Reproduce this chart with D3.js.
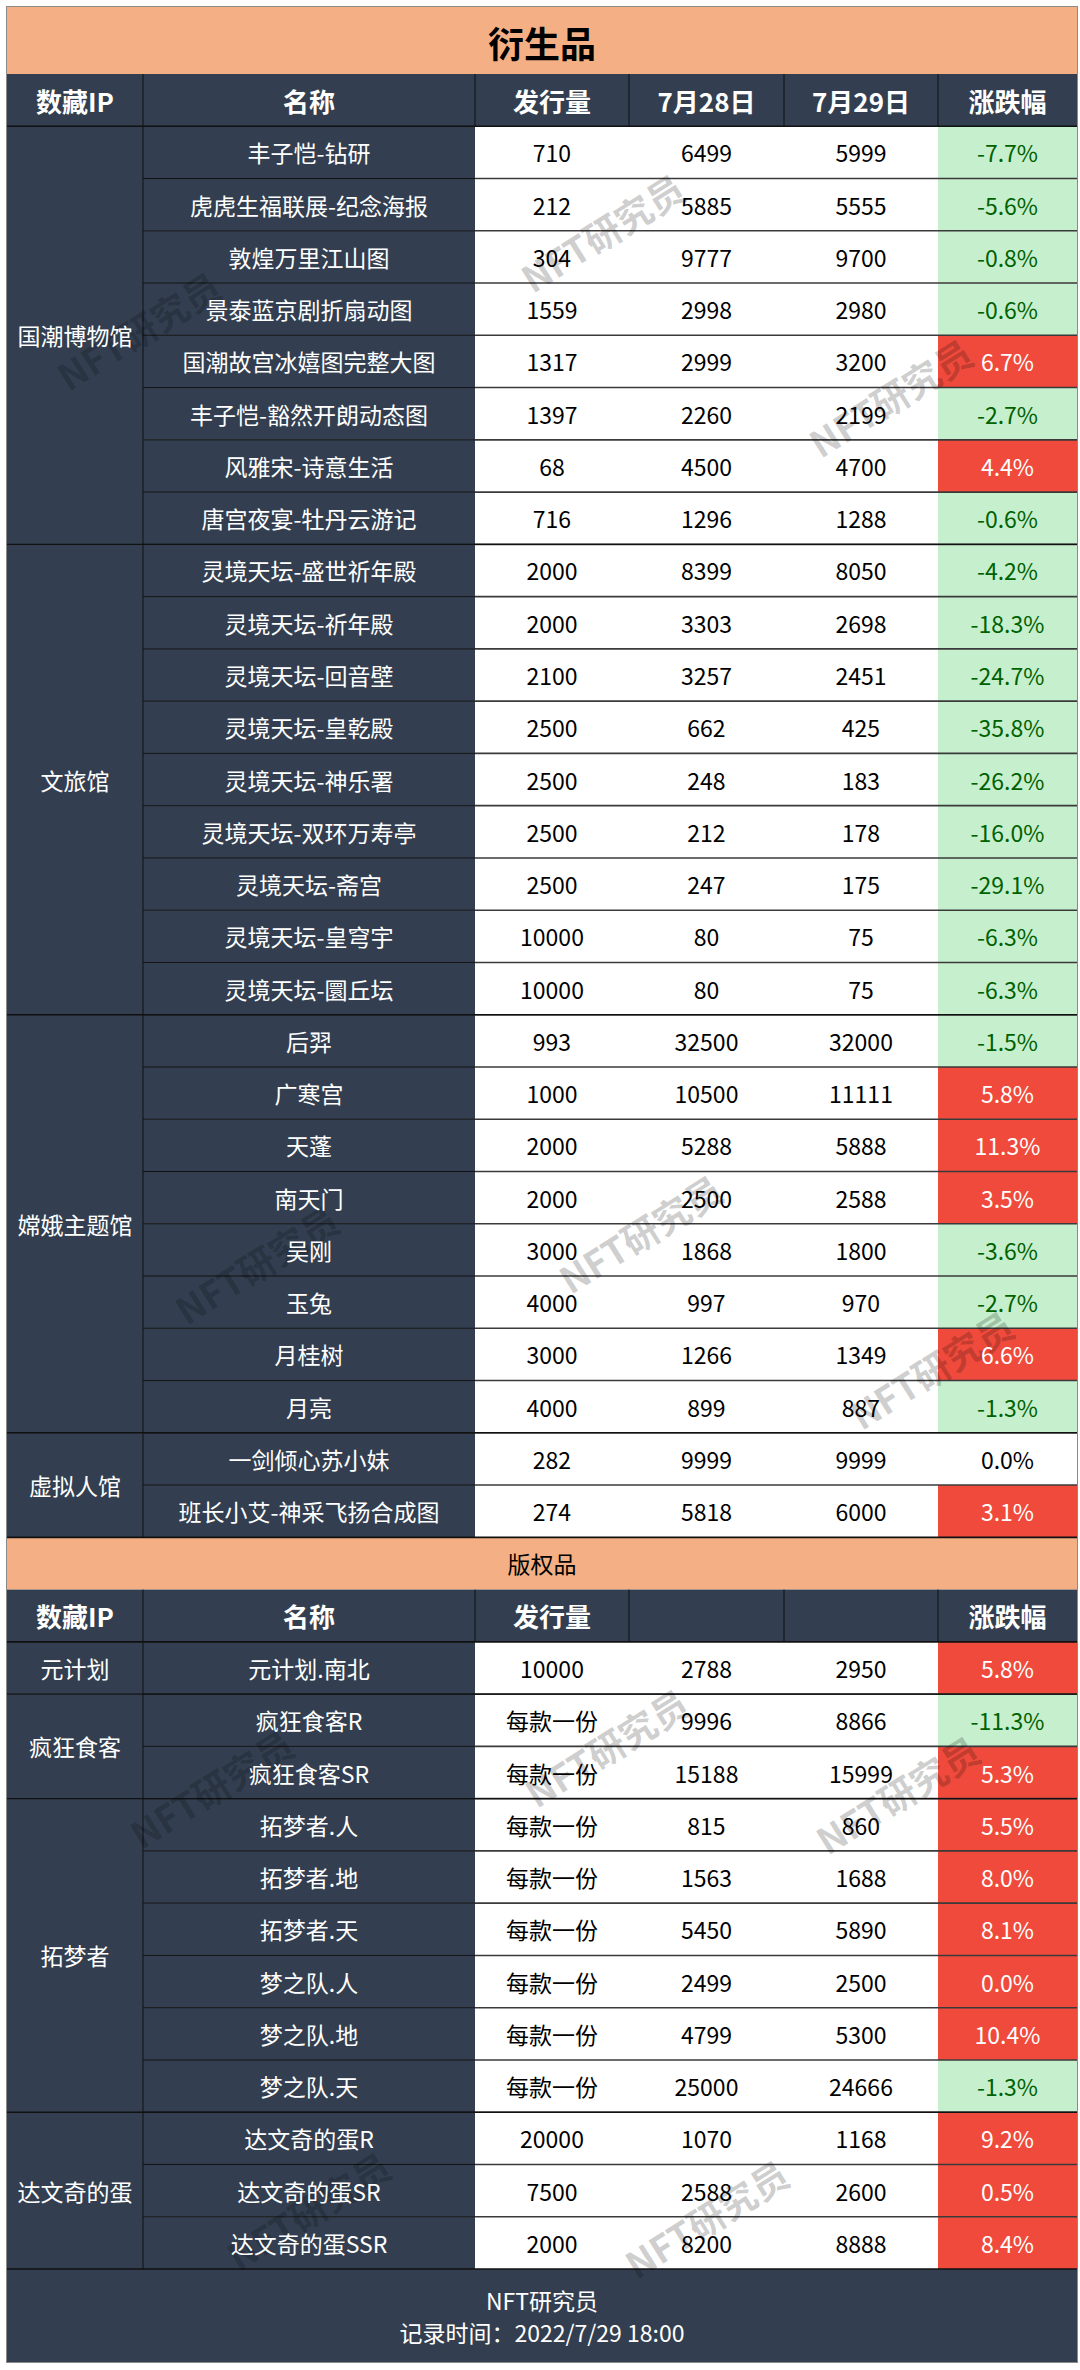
<!DOCTYPE html>
<html><head><meta charset="utf-8">
<script src="https://cdn.jsdelivr.net/npm/d3@7"></script>
<style>body{margin:0;background:#fff} svg{display:block}</style>
</head><body><svg id="c" width="1080" height="2370"></svg>
<script>
// ---------------- DATA ----------------
const title = '衍生品';
const section2Title = '版权品';
const header1 = ['数藏IP','名称','发行量','7月28日','7月29日','涨跌幅'];
const header2 = ['数藏IP','名称','发行量','','','涨跌幅'];

const groups1 = ['国潮博物馆','文旅馆','嫦娥主题馆','虚拟人馆'];
const groupSizes1 = [8, 9, 8, 2];
const names1 = ['丰子恺-钻研','虎虎生福联展-纪念海报','敦煌万里江山图','景泰蓝京剧折扇动图','国潮故宫冰嬉图完整大图','丰子恺-豁然开朗动态图','风雅宋-诗意生活','唐宫夜宴-牡丹云游记',
  '灵境天坛-盛世祈年殿','灵境天坛-祈年殿','灵境天坛-回音壁','灵境天坛-皇乾殿','灵境天坛-神乐署','灵境天坛-双环万寿亭','灵境天坛-斋宫','灵境天坛-皇穹宇','灵境天坛-圜丘坛',
  '后羿','广寒宫','天蓬','南天门','吴刚','玉兔','月桂树','月亮',
  '一剑倾心苏小妹','班长小艾-神采飞扬合成图'];
const issue1 = ['710','212','304','1559','1317','1397','68','716',
  '2000','2000','2100','2500','2500','2500','2500','10000','10000',
  '993','1000','2000','2000','3000','4000','3000','4000',
  '282','274'];
const jul28_1 = [6499,5885,9777,2998,2999,2260,4500,1296,
  8399,3303,3257,662,248,212,247,80,80,
  32500,10500,5288,2500,1868,997,1266,899,
  9999,5818];
const jul29_1 = [5999,5555,9700,2980,3200,2199,4700,1288,
  8050,2698,2451,425,183,178,175,75,75,
  32000,11111,5888,2588,1800,970,1349,887,
  9999,6000];
const change1 = [-7.7,-5.6,-0.8,-0.6,6.7,-2.7,4.4,-0.6,
  -4.2,-18.3,-24.7,-35.8,-26.2,-16.0,-29.1,-6.3,-6.3,
  -1.5,5.8,11.3,3.5,-3.6,-2.7,6.6,-1.3,
  0.0,3.1];

const groups2 = ['元计划','疯狂食客','拓梦者','达文奇的蛋'];
const groupSizes2 = [1, 2, 6, 3];
const names2 = ['元计划.南北','疯狂食客R','疯狂食客SR','拓梦者.人','拓梦者.地','拓梦者.天','梦之队.人','梦之队.地','梦之队.天','达文奇的蛋R','达文奇的蛋SR','达文奇的蛋SSR'];
const issue2 = ['10000','每款一份','每款一份','每款一份','每款一份','每款一份','每款一份','每款一份','每款一份','20000','7500','2000'];
const jul28_2 = [2788,9996,15188,815,1563,5450,2499,4799,25000,1070,2588,8200];
const jul29_2 = [2950,8866,15999,860,1688,5890,2500,5300,24666,1168,2600,8888];
const change2 = [5.8,-11.3,5.3,5.5,8.0,8.1,0.0,10.4,-1.3,9.2,0.5,8.4];

const footerLines = ['NFT研究员','记录时间：2022/7/29 18:00'];
const watermarkText = 'NFT研究员';

// ---------------- LAYOUT / STYLE ----------------
const NAVY = '#333f50', SALMON = '#f4b084', GREEN_BG = '#c6efce', GREEN_TX = '#006100', RED = '#ef4a3c';
const FONT = "'Noto Sans CJK SC','Noto Sans',sans-serif";
const colKeys = ['ip','name','issue','d28','d29','chg'];
const colEdges = [7,143,475,629,784,938,1077];
const xL = d3.scaleOrdinal().domain(colKeys).range(colEdges.slice(0,6));
const xR = d3.scaleOrdinal().domain(colKeys).range(colEdges.slice(1));
const xC = k => (xL(k) + xR(k)) / 2;
const TOTAL_ROWS = 42;
const y = d3.scaleLinear().domain([0, TOTAL_ROWS]).range([74, 2269]);
const TOP = 7, BOTTOM = 2362, LEFT = colEdges[0], RIGHT = colEdges[6];

const svg = d3.select('#c');
const gBg = svg.append('g'), gLines = svg.append('g'), gWm = svg.append('g'), gTx = svg.append('g');

function rect(x0, y0, x1, y1, fill) {
  gBg.append('rect').attr('x', x0).attr('y', y0).attr('width', x1 - x0).attr('height', y1 - y0).attr('fill', fill);
}
function text(x, yy, s, size, fill, weight) {
  gTx.append('text').attr('x', x).attr('y', yy).attr('text-anchor', 'middle')
    .attr('dominant-baseline', 'central').attr('font-family', FONT)
    .attr('font-size', size).attr('font-weight', weight || 400).attr('fill', fill).text(s);
}
function line(x0, y0, x1, y1, stroke, w) {
  gLines.append('line').attr('x1', x0).attr('y1', y0).attr('x2', x1).attr('y2', y1)
    .attr('stroke', stroke).attr('stroke-width', w);
}

// Title band
rect(LEFT, TOP, RIGHT, y(0), SALMON);
text((LEFT + RIGHT) / 2, (TOP + y(0)) / 2 + 1, title, 36, '#000', 700);

// Headers
function drawHeader(r, labels) {
  rect(LEFT, y(r), RIGHT, y(r + 1), NAVY);
  colKeys.forEach((k, i) => {
    if (i > 0) line(xL(k), y(r), xL(k), y(r + 1), '#111', 1);
    if (labels[i]) text(xC(k), (y(r) + y(r + 1)) / 2, labels[i], 26, '#fff', 700);
  });
}
drawHeader(0, header1);

// Section rows
function drawSection(startRow, groups, sizes, names, issue, d28, d29, chg) {
  names.forEach((nm, i) => {
    const r = startRow + i, y0 = y(r), y1 = y(r + 1), cy = (y0 + y1) / 2;
    rect(xL('name'), y0, xR('name'), y1, NAVY);
    rect(xL('issue'), y0, xR('d29'), y1, '#fff');
    const diff = d29[i] - d28[i];
    const bg = diff > 0 ? RED : diff < 0 ? GREEN_BG : '#fff';
    const fg = diff > 0 ? '#fff' : diff < 0 ? GREEN_TX : '#000';
    rect(xL('chg'), y0, xR('chg'), y1, bg);
    text(xC('name'), cy, nm, 23, '#fff');
    text(xC('issue'), cy, issue[i], 23, '#000');
    text(xC('d28'), cy, d28[i], 23, '#000');
    text(xC('d29'), cy, d29[i], 23, '#000');
    text(xC('chg'), cy, chg[i].toFixed(1) + '%', 23, fg);
    if (i > 0) {
      line(xL('name'), y0, xR('name'), y0, '#111', 1);
      line(xL('issue'), y0, xR('chg'), y0, '#3a3a3a', 1.6);
    }
  });
  let r = startRow;
  groups.forEach((g, gi) => {
    const y0 = y(r), y1 = y(r + sizes[gi]);
    rect(xL('ip'), y0, xR('ip'), y1, NAVY);
    text(xC('ip'), (y0 + y1) / 2, g, 23, '#fff');
    if (gi > 0) line(xL('ip'), y0, xR('chg'), y0, '#111', 1.4);
    r += sizes[gi];
  });
  const yEnd = y(startRow + names.length);
  line(xL('name'), y(startRow), xL('name'), yEnd, '#111', 1);
  line(LEFT, y(startRow), RIGHT, y(startRow), '#111', 1.6);
  line(LEFT, yEnd, RIGHT, yEnd, '#111', 1.6);
}
drawSection(1, groups1, groupSizes1, names1, issue1, jul28_1, jul29_1, change1);

// Section 2 band + header
rect(LEFT, y(28), RIGHT, y(29), SALMON);
text((LEFT + RIGHT) / 2, (y(28) + y(29)) / 2, section2Title, 23, '#000');
drawHeader(29, header2);
drawSection(30, groups2, groupSizes2, names2, issue2, jul28_2, jul29_2, change2);

// Footer
rect(LEFT, y(TOTAL_ROWS), RIGHT, BOTTOM, NAVY);
text((LEFT + RIGHT) / 2, 2300, footerLines[0], 23, '#fff');
text((LEFT + RIGHT) / 2, 2332, footerLines[1], 23, '#fff');

// Outer border
gLines.append('rect').attr('x', LEFT - 0.5).attr('y', TOP - 0.5).attr('width', RIGHT - LEFT + 1)
  .attr('height', BOTTOM - TOP + 1).attr('fill', 'none').attr('stroke', '#8a8a8a').attr('stroke-width', 1);

// Watermarks (centres)
const wmX = [602, 138, 890, 256, 640, 931, 211, 606, 897, 308, 706];
const wmY = [232, 330, 397, 1264, 1233, 1369, 1788, 1747, 1794, 2210, 2218];
wmX.forEach((wx, i) => {
  gWm.append('text').attr('transform', `translate(${wx},${wmY[i]}) rotate(-32)`)
    .attr('text-anchor', 'middle').attr('dominant-baseline', 'central')
    .attr('font-family', FONT).attr('font-weight', 700).attr('font-size', 37)
    .attr('fill', '#000').attr('fill-opacity', 0.2).text(watermarkText);
});
</script></body></html>
